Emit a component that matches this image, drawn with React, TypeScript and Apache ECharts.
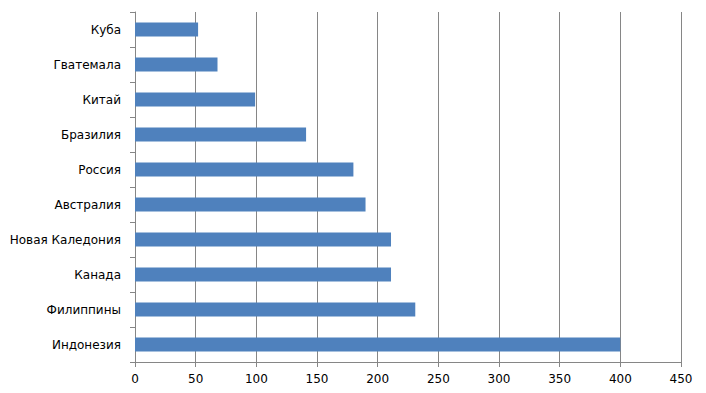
import React, { useEffect, useRef } from "react";
import * as echarts from "echarts";

const categories = [
  "Куба",
  "Гватемала",
  "Китай",
  "Бразилия",
  "Россия",
  "Австралия",
  "Новая Каледония",
  "Канада",
  "Филиппины",
  "Индонезия",
];
const values = [52, 68, 99, 141, 180, 190, 211, 211, 231, 400];
const axisMin = 0;
const axisMax = 450;
const axisStep = 50;

export default function App() {
  const ref = useRef<HTMLDivElement>(null);
  useEffect(() => {
    if (!ref.current) return;
    const chart = echarts.init(ref.current, undefined, { renderer: "svg" });
    const font = "Verdana, 'DejaVu Sans', sans-serif";
    chart.setOption({
      animation: false,
      backgroundColor: "#ffffff",
      grid: { left: 135, right: 25, top: 12, bottom: 31, containLabel: false },
      xAxis: {
        type: "value",
        min: axisMin,
        max: axisMax,
        interval: axisStep,
        axisLine: { show: true, lineStyle: { color: "#868686", width: 1 } },
        axisTick: { show: true, length: 5, lineStyle: { color: "#868686" } },
        splitLine: { show: true, lineStyle: { color: "#868686", width: 1 } },
        axisLabel: { color: "#000", fontSize: 12, fontFamily: font, margin: 11 },
      },
      yAxis: {
        type: "category",
        data: categories,
        inverse: true,
        axisLine: { show: true, lineStyle: { color: "#868686", width: 1 } },
        axisTick: { show: true, length: 5, lineStyle: { color: "#868686" } },
        axisLabel: { color: "#000", fontSize: 12, fontFamily: font, margin: 14 },
        splitLine: { show: false },
      },
      series: [
        {
          type: "bar",
          data: values,
          barWidth: "40%",
          itemStyle: { color: "#4F81BD" },
        },
      ],
    });
    return () => chart.dispose();
  }, []);
  return <div ref={ref} style={{ width: 706, height: 393, margin: -8 }} />;
}
